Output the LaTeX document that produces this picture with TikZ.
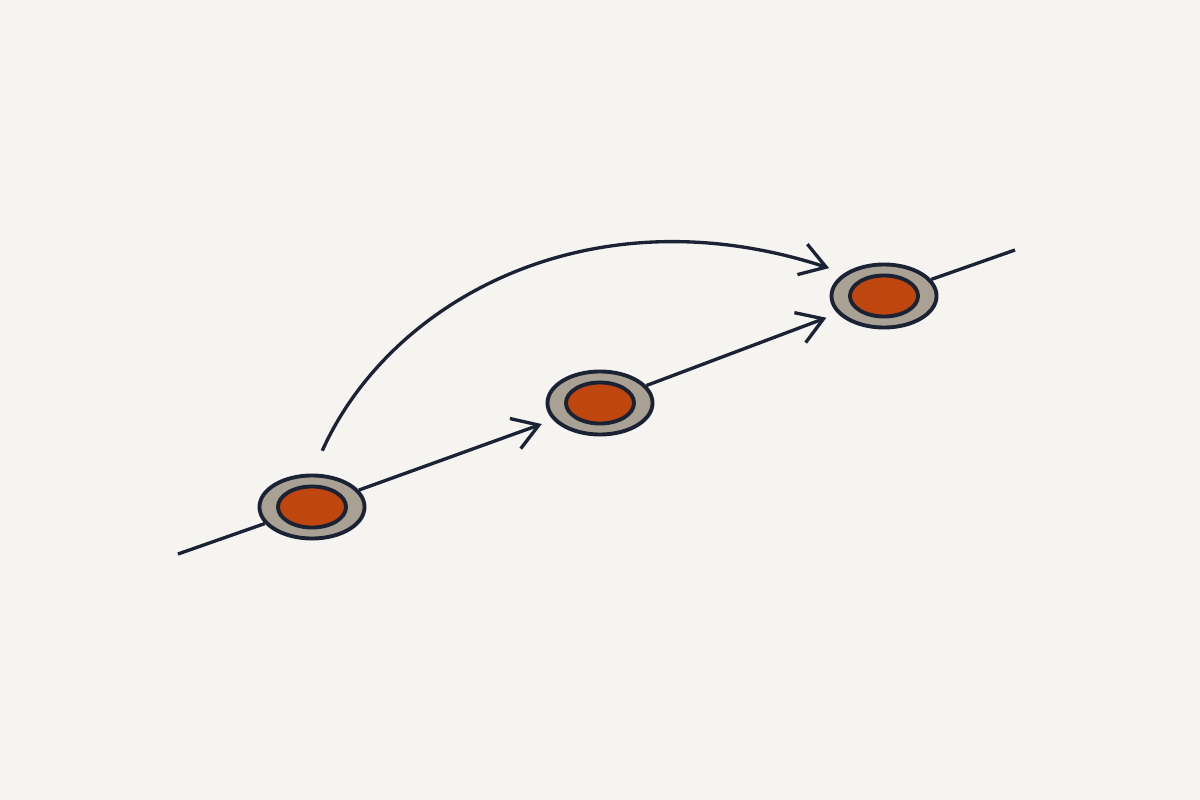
\documentclass[tikz,border=0pt]{standalone}
\usetikzlibrary{shapes.geometric,arrows.meta}
\definecolor{bg}{HTML}{F5F4F1}
\definecolor{ink}{HTML}{1B2233}
\definecolor{ring}{HTML}{A8A194}
\definecolor{core}{HTML}{C0460F}
\begin{document}
\begin{tikzpicture}[x=0.01cm,y=-0.01cm,
  outer/.style={ellipse,draw=ink,fill=ring,line width=1.1pt,minimum width=1.05cm,minimum height=0.63cm,inner sep=0pt},
  inner/.style={ellipse,draw=ink,fill=core,line width=1.1pt,minimum width=0.68cm,minimum height=0.41cm,inner sep=0pt},
  link/.style={draw=ink,line width=0.95pt},
  arr/.style={link,-{Straight Barb[length=0.25cm,width=0.32cm,line width=0.95pt]}}]
\fill[bg] (0,0) rectangle (1200,800);
\useasboundingbox (0,0) rectangle (1200,800);
\coordinate (tl) at (178,554);
\coordinate (tr) at (1015,250);
\node[outer] (A) at (312,507) {};
\node[outer] (B) at (600,403) {};
\node[outer] (C) at (884,296) {};
\node[inner] (Ai) at (A) {};
\node[inner] (Bi) at (B) {};
\node[inner] (Ci) at (C) {};
\draw[link] (tl) -- (A);
\draw[link] (C) -- (tr);
\draw[arr,shorten >=0.12cm] (A) -- (B);
\draw[arr,shorten >=0.12cm] (B) -- (C);
\draw[arr,shorten <=0.25cm,shorten >=0.16cm] (A.north) .. controls (390,300) and (590,190) .. (C.150);
\end{tikzpicture}
\end{document}
